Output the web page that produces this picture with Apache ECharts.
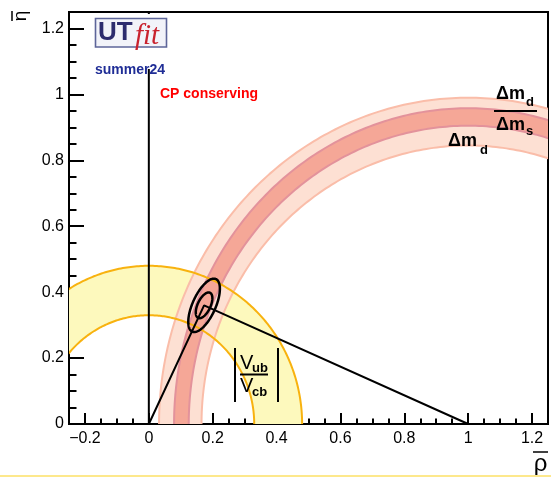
<!DOCTYPE html>
<html><head><meta charset="utf-8">
<script src="https://cdn.jsdelivr.net/npm/echarts@6/dist/echarts.min.js"></script>
<style>html,body{margin:0;padding:0;background:#fff}#c{width:551px;height:477px}</style>
</head><body><div id="c"></div>
<script>
// ---- axis ticks / labels ----
const xTickValues = [-0.2, 0, 0.2, 0.4, 0.6, 0.8, 1, 1.2];
const xTickLabels = ['\u22120.2', '0', '0.2', '0.4', '0.6', '0.8', '1', '1.2'];
const yTickValues = [0, 0.2, 0.4, 0.6, 0.8, 1, 1.2];
const yTickLabels = ['0', '0.2', '0.4', '0.6', '0.8', '1', '1.2'];
const xMinorValues = [];
for (let i = -5; i <= 25; i++) xMinorValues.push(+(i * 0.05).toFixed(2));
const yMinorValues = [];
for (let i = 0; i <= 25; i++) yMinorValues.push(+(i * 0.05).toFixed(2));

// ---- constraints ----
// |Vub/Vcb| ring: centre (rho, eta)
const vubCenter = [0, 0];
const vubRadiiRho = [0.33, 0.48];   // inner, outer extent along rho
const vubRadiiEta = [0.33, 0.48];   // inner, outer extent along eta
// Delta m_d ring around (1,0)
const dmdCenter = [1, 0];
const dmdRadiiRho = [0.835, 0.968];
const dmdRadiiEta = [0.845, 0.99];
// Delta m_d / Delta m_s ring around (1,0)
const dmsRadiiRho = [0.875, 0.921];
const dmsRadiiEta = [0.905, 0.958];
// unitarity triangle
const apex = [0.173, 0.36];
const triangle = [[0, 0], apex, [1, 0]];
// CP conserving line
const cpLine = [[0, 0], [0, 1.25]];
// fit contours: [rho, eta, sigmaRho, sigmaEta, correlation]
const ellipse68 = [0.173, 0.36, 0.026, 0.039, 0.55];
const ellipse95 = [0.173, 0.36, 0.0495, 0.081, 0.62];

const N = 240;
function ringItem(fill, edge, edgeW, withFill, withEdge) {
  return function (params, api) {
    const cx = api.value(0), cy = api.value(1);
    const rInX = api.value(2), rOutX = api.value(3), rInY = api.value(4), rOutY = api.value(5);
    const outer = [], inner = [];
    for (let i = 0; i <= N; i++) {
      const a = Math.PI * i / N;
      outer.push(api.coord([cx + rOutX * Math.cos(a), cy + rOutY * Math.sin(a)]));
      inner.push(api.coord([cx + rInX * Math.cos(a), cy + rInY * Math.sin(a)]));
    }
    const ch = [];
    if (withFill) ch.push({ type: 'polygon', shape: { points: outer.concat(inner.slice().reverse()) }, style: { fill: fill } });
    if (withEdge) {
      ch.push({ type: 'polyline', shape: { points: outer }, style: { stroke: edge, lineWidth: edgeW, fill: null } });
      ch.push({ type: 'polyline', shape: { points: inner }, style: { stroke: edge, lineWidth: edgeW, fill: null } });
    }
    return { type: 'group', children: ch };
  };
}
function ellipseItem(params, api) {
  const cx = api.value(0), cy = api.value(1), sx = api.value(2), sy = api.value(3), r = api.value(4);
  const s = Math.sqrt(1 - r * r);
  const pts = [];
  for (let i = 0; i <= 180; i++) {
    const t = 2 * Math.PI * i / 180;
    pts.push(api.coord([cx + sx * Math.cos(t), cy + sy * (r * Math.cos(t) + s * Math.sin(t))]));
  }
  return { type: 'polyline', shape: { points: pts }, style: { stroke: '#000', lineWidth: 2.5, fill: null } };
}

const FONT = 'Liberation Sans, Arial, Helvetica, sans-serif';
const chart = echarts.init(document.getElementById('c'), null, { renderer: 'canvas' });

const vubRow = [vubCenter[0], vubCenter[1], vubRadiiRho[0], vubRadiiRho[1], vubRadiiEta[0], vubRadiiEta[1]];
const dmdRow = [dmdCenter[0], dmdCenter[1], dmdRadiiRho[0], dmdRadiiRho[1], dmdRadiiEta[0], dmdRadiiEta[1]];
const dmsRow = [dmdCenter[0], dmdCenter[1], dmsRadiiRho[0], dmsRadiiRho[1], dmsRadiiEta[0], dmsRadiiEta[1]];

const axisBase = { type: 'value', splitLine: { show: false } };
const option = {
  animation: false,
  backgroundColor: '#fff',
  grid: { left: 69, right: 3, top: 12, bottom: 53, show: true, borderColor: '#000', borderWidth: 2, backgroundColor: 'transparent' },
  xAxis: [
    Object.assign({}, axisBase, {
      min: -0.25, max: 1.25, position: 'bottom',
      axisLine: { show: true, onZero: false, lineStyle: { color: '#000', width: 2 } },
      axisTick: { show: true, inside: true, length: 11, customValues: xTickValues, lineStyle: { color: '#000', width: 2 } },
      axisLabel: { show: true, customValues: xTickValues, margin: 7, color: '#000', fontSize: 16, fontFamily: FONT,
        formatter: v => { const i = xTickValues.findIndex(t => Math.abs(t - v) < 1e-6); return i >= 0 ? xTickLabels[i] : ''; } }
    }),
    Object.assign({}, axisBase, {
      min: -0.25, max: 1.25, position: 'bottom',
      axisLine: { show: false, onZero: false },
      axisTick: { show: true, inside: true, length: 5.5, customValues: xMinorValues, lineStyle: { color: '#000', width: 2 } },
      axisLabel: { show: false }
    })
  ],
  yAxis: [
    Object.assign({}, axisBase, {
      min: 0, max: 1.25, position: 'left',
      axisLine: { show: true, onZero: false, lineStyle: { color: '#000', width: 2 } },
      axisTick: { show: true, inside: true, length: 15, customValues: yTickValues, lineStyle: { color: '#000', width: 2 } },
      axisLabel: { show: true, customValues: yTickValues, margin: 5, color: '#000', fontSize: 16, fontFamily: FONT,
        formatter: v => { const i = yTickValues.findIndex(t => Math.abs(t - v) < 1e-6); return i >= 0 ? yTickLabels[i] : ''; } }
    }),
    Object.assign({}, axisBase, {
      min: 0, max: 1.25, position: 'left',
      axisLine: { show: false, onZero: false },
      axisTick: { show: true, inside: true, length: 7.5, customValues: yMinorValues, lineStyle: { color: '#000', width: 2 } },
      axisLabel: { show: false }
    })
  ],
  series: [
    { type: 'custom', name: 'vubFill', clip: true, z: 1, silent: true,
      renderItem: ringItem('#fdf9bd', '#f8b20f', 2, true, false), data: [vubRow] },
    { type: 'custom', name: 'dmd', clip: true, z: 2, silent: true,
      renderItem: ringItem('#fde0d3', '#fabda9', 2, true, true), data: [dmdRow] },
    { type: 'custom', name: 'dms', clip: true, z: 3, silent: true,
      renderItem: ringItem('#f5a797', '#e3929b', 2, true, true), data: [dmsRow] },
    { type: 'custom', name: 'vubEdge', clip: true, z: 4, silent: true,
      renderItem: ringItem('#fdf9bd', '#f8b20f', 2, false, true), data: [vubRow] },
    { type: 'line', name: 'cp', z: 5, data: cpLine, showSymbol: false, symbol: 'none', silent: true,
      lineStyle: { color: '#000', width: 2 } },
    { type: 'line', name: 'triangle', z: 6, data: triangle, showSymbol: false, symbol: 'none', silent: true,
      lineStyle: { color: '#000', width: 2 } },
    { type: 'custom', name: 'contours', clip: true, z: 7, silent: true,
      renderItem: ellipseItem, data: [ellipse68, ellipse95] }
  ],
  graphic: [
    // logo
    { type: 'rect', z: 100, shape: { x: 92, y: 14, width: 78, height: 55 }, style: { fill: '#fff' } },
    { type: 'rect', z: 101, shape: { x: 95.5, y: 18.5, width: 71, height: 28.5 }, style: { fill: '#f2f3f9', stroke: '#5d6599', lineWidth: 1.6 } },
    { type: 'text', z: 102, x: 98, y: 33, style: { text: 'UT', font: 'bold 26px ' + FONT, fill: '#2d2c6e', verticalAlign: 'middle' } },
    { type: 'text', z: 102, x: 135, y: 36, style: { text: 'fit', font: 'italic 29px "Liberation Serif", "Times New Roman", serif', fill: '#c9222e', verticalAlign: 'middle' } },
    { type: 'text', z: 102, x: 95, y: 70, style: { text: 'summer24', font: 'bold 14px ' + FONT, fill: '#1f2d96', verticalAlign: 'middle' } },
    // CP conserving
    { type: 'text', z: 102, x: 160, y: 94, style: { text: 'CP conserving', font: 'bold 14px ' + FONT, fill: '#ff0000', verticalAlign: 'middle' } },
    // Delta m_d / Delta m_s
    { type: 'text', z: 102, x: 496, y: 94, style: { text: '\u0394m', font: 'bold 18px ' + FONT, fill: '#000', verticalAlign: 'middle' } },
    { type: 'text', z: 102, x: 526, y: 102, style: { text: 'd', font: 'bold 13px ' + FONT, fill: '#000', verticalAlign: 'middle' } },
    { type: 'line', z: 102, shape: { x1: 494, y1: 111, x2: 537, y2: 111 }, style: { stroke: '#000', lineWidth: 2 } },
    { type: 'text', z: 102, x: 496, y: 125, style: { text: '\u0394m', font: 'bold 18px ' + FONT, fill: '#000', verticalAlign: 'middle' } },
    { type: 'text', z: 102, x: 526, y: 131, style: { text: 's', font: 'bold 13px ' + FONT, fill: '#000', verticalAlign: 'middle' } },
    // Delta m_d
    { type: 'text', z: 102, x: 448, y: 141.5, style: { text: '\u0394m', font: 'bold 18px ' + FONT, fill: '#000', verticalAlign: 'middle' } },
    { type: 'text', z: 102, x: 480, y: 150, style: { text: 'd', font: 'bold 13px ' + FONT, fill: '#000', verticalAlign: 'middle' } },
    // |Vub/Vcb|
    { type: 'line', z: 102, shape: { x1: 235, y1: 348, x2: 235, y2: 402 }, style: { stroke: '#000', lineWidth: 2 } },
    { type: 'line', z: 102, shape: { x1: 278, y1: 348, x2: 278, y2: 402 }, style: { stroke: '#000', lineWidth: 2 } },
    { type: 'line', z: 102, shape: { x1: 240, y1: 374.5, x2: 268, y2: 374.5 }, style: { stroke: '#000', lineWidth: 2 } },
    { type: 'text', z: 102, x: 240, y: 363, style: { text: 'V', font: '20px ' + FONT, fill: '#000', verticalAlign: 'middle' } },
    { type: 'text', z: 102, x: 252, y: 368, style: { text: 'ub', font: 'bold 13px ' + FONT, fill: '#000', verticalAlign: 'middle' } },
    { type: 'text', z: 102, x: 240, y: 386, style: { text: 'V', font: '20px ' + FONT, fill: '#000', verticalAlign: 'middle' } },
    { type: 'text', z: 102, x: 252, y: 392, style: { text: 'cb', font: 'bold 13px ' + FONT, fill: '#000', verticalAlign: 'middle' } },
    // axis titles
    { type: 'group', z: 102, x: 20, y: 16, rotation: Math.PI / 2, children: [
      { type: 'text', z: 102, x: 0, y: 1, style: { text: '\u03b7', font: '19px ' + FONT, fill: '#000', align: 'center', verticalAlign: 'middle' } },
      { type: 'line', z: 102, shape: { x1: -5, y1: -8, x2: 5, y2: -8 }, style: { stroke: '#000', lineWidth: 1.5 } }
    ] },
    { type: 'text', z: 102, x: 540.5, y: 464, style: { text: '\u03c1', font: '24px ' + FONT, fill: '#000', align: 'center', verticalAlign: 'middle' } },
    { type: 'line', z: 102, shape: { x1: 533, y1: 452, x2: 548, y2: 452 }, style: { stroke: '#000', lineWidth: 1.5 } },
    // bottom yellow rule
    { type: 'line', z: 102, shape: { x1: 0, y1: 476, x2: 551, y2: 476 }, style: { stroke: '#fde88c', lineWidth: 2 } }
  ]
};
chart.setOption(option);
</script>
</body></html>
